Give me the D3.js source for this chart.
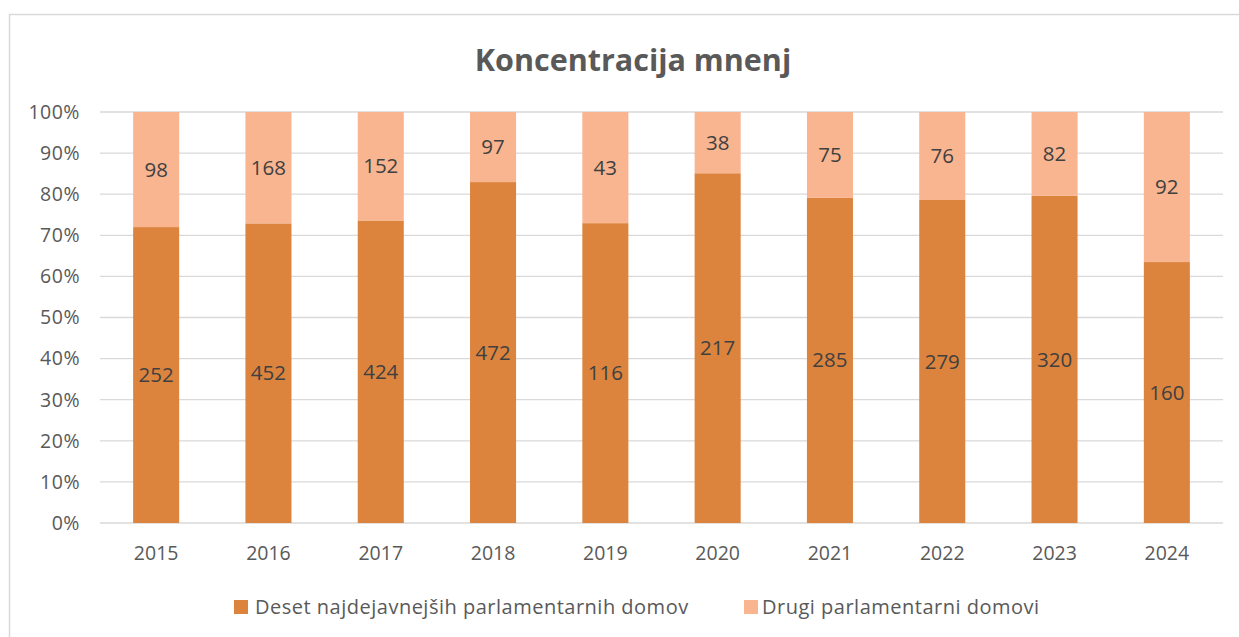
<!DOCTYPE html>
<html><head><meta charset="utf-8">
<script src="https://cdn.jsdelivr.net/npm/d3@7"></script>
<style>
body{margin:0;background:#fff;}
text{font-family:"Open Sans","Noto Sans",sans-serif;}
</style></head>
<body>
<svg id="c" width="1239" height="637"></svg>
<script>
const years = ["2015","2016","2017","2018","2019","2020","2021","2022","2023","2024"];
const topTen = [252,452,424,472,116,217,285,279,320,160];
const others = [98,168,152,97,43,38,75,76,82,92];
const seriesNames = ["Deset najdejavnejših parlamentarnih domov","Drugi parlamentarni domovi"];
const yTicks = [0,0.1,0.2,0.3,0.4,0.5,0.6,0.7,0.8,0.9,1];

const colors = ["#DC843E","#F8B590"];
const textCol = "#595959";
const svg = d3.select("#c");

// chart border
svg.append("rect").attr("x",9.5).attr("y",14.5).attr("width",1240).attr("height",640)
  .attr("fill","#fff").attr("stroke","#d9d9d9").attr("stroke-width",1.5);

const m = {l:100, r:1223, t:112, b:523};
const x = d3.scaleBand().domain(years).range([m.l,m.r]).paddingInner(0.59).paddingOuter(0.295);
const y = d3.scaleLinear().domain([0,1]).range([m.b,m.t]);

// gridlines
svg.append("g").selectAll("line").data(yTicks).join("line")
  .attr("x1",m.l).attr("x2",m.r).attr("y1",d=>y(d)).attr("y2",d=>y(d))
  .attr("stroke","#d9d9d9").attr("stroke-width",1.3);

// y labels
svg.append("g").selectAll("text").data(yTicks).join("text")
  .attr("x",80).attr("y",d=>y(d)).attr("dy","0.35em").attr("text-anchor","end")
  .attr("font-size",19.5).attr("letter-spacing",0.5).attr("fill",textCol).text(d=>d3.format(".0%")(d));

const data = years.map((yr,i)=>({year:yr, a:topTen[i], b:others[i], tot:topTen[i]+others[i]}));

const g = svg.append("g");
data.forEach(d=>{
  const pa = d.a/d.tot;
  g.append("rect").attr("x",x(d.year)).attr("width",x.bandwidth())
   .attr("y",y(pa)).attr("height",y(0)-y(pa)).attr("fill",colors[0]);
  g.append("rect").attr("x",x(d.year)).attr("width",x.bandwidth())
   .attr("y",y(1)).attr("height",y(pa)-y(1)).attr("fill",colors[1]);
  g.append("text").attr("x",x(d.year)+x.bandwidth()/2).attr("y",y(pa/2)).attr("dy","0.35em")
   .attr("text-anchor","middle").attr("font-size",20.5).attr("fill","#404040").text(d.a);
  g.append("text").attr("x",x(d.year)+x.bandwidth()/2).attr("y",y((1+pa)/2)).attr("dy","0.35em")
   .attr("text-anchor","middle").attr("font-size",20.5).attr("fill","#404040").text(d.b);
});

// x labels
svg.append("g").selectAll("text").data(years).join("text")
  .attr("x",d=>x(d)+x.bandwidth()/2).attr("y",553).attr("dy","0.35em").attr("text-anchor","middle")
  .attr("font-size",19.5).attr("fill",textCol).text(d=>d);

// title
svg.append("text").attr("x",633).attr("y",60).attr("dy","0.35em").attr("text-anchor","middle")
  .attr("font-size",30.5).attr("font-weight","bold").attr("fill",textCol).text("Koncentracija mnenj");

// legend
const lg = [{x:234, tx:255},{x:744, tx:762}];
seriesNames.forEach((n,i)=>{
  svg.append("rect").attr("x",lg[i].x).attr("y",600).attr("width",14).attr("height",14).attr("fill",colors[i]);
  svg.append("text").attr("x",lg[i].tx).attr("y",607).attr("dy","0.35em").attr("font-size",20)
    .attr("letter-spacing",0.5).attr("fill",textCol).text(n);
});
</script>
</body></html>
